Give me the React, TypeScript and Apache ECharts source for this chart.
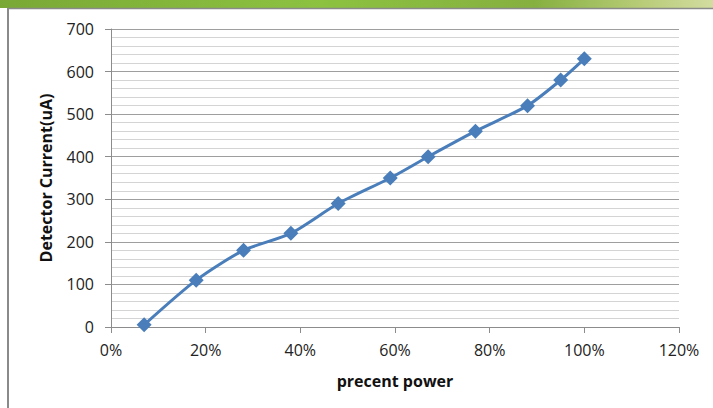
import React, { useEffect, useRef } from "react";
import * as echarts from "echarts";

const powerPct = [0.07, 0.18, 0.28, 0.38, 0.48, 0.59, 0.67, 0.77, 0.88, 0.95, 1.0];
const currentUA = [5, 110, 180, 220, 290, 350, 400, 460, 520, 580, 630];
const xAxisTitle = "precent power";
const yAxisTitle = "Detector Current(uA)";

const FONT = "'Open Sans', 'Liberation Sans', Arial, sans-serif";

export default function App() {
  const ref = useRef<HTMLDivElement>(null);
  useEffect(() => {
    if (!ref.current) return;
    const chart = echarts.init(ref.current, undefined, { renderer: "svg" });
    const data = powerPct.map((p, i) => [p, currentUA[i]]);
    chart.setOption({
      animation: false,
      backgroundColor: "#ffffff",
      textStyle: { fontFamily: FONT },
      grid: { left: 111, right: 34, top: 29, bottom: 81 },
      graphic: [
        {
          type: "rect",
          shape: { x: 0, y: 0, width: 713, height: 8 },
          style: {
            fill: new echarts.graphic.LinearGradient(0, 0, 1, 0, [
              { offset: 0, color: "#7aa836" },
              { offset: 0.45, color: "#8cc240" },
              { offset: 0.75, color: "#86b040" },
              { offset: 0.9, color: "#b8cc78" },
              { offset: 1, color: "#d2dca0" },
            ]),
          },
          silent: true,
        },
        {
          type: "line",
          shape: { x1: 7, y1: 8.5, x2: 713, y2: 8.5 },
          style: { stroke: "#8a8a8a", lineWidth: 1.5 },
          silent: true,
        },
        {
          type: "line",
          shape: { x1: 8, y1: 8, x2: 8, y2: 408 },
          style: { stroke: "#8a8a8a", lineWidth: 2 },
          silent: true,
        },
      ],
      xAxis: {
        type: "value",
        min: 0,
        max: 1.2,
        interval: 0.2,
        name: xAxisTitle,
        nameLocation: "middle",
        nameGap: 46,
        nameTextStyle: { fontFamily: FONT, fontSize: 16, fontWeight: "bold", color: "#111" },
        axisLine: { show: true, lineStyle: { color: "#8c8c8c", width: 1 } },
        axisTick: { show: true, length: 6, lineStyle: { color: "#8c8c8c" } },
        axisLabel: {
          fontFamily: FONT,
          fontSize: 16,
          color: "#222",
          margin: 15,
          formatter: (v: number) => `${Math.round(v * 100)}%`,
        },
        splitLine: { show: false },
      },
      yAxis: {
        type: "value",
        min: 0,
        max: 700,
        interval: 100,
        name: yAxisTitle,
        nameLocation: "middle",
        nameGap: 57,
        nameRotate: 90,
        nameTextStyle: { fontFamily: FONT, fontSize: 16, fontWeight: "bold", color: "#111" },
        axisLine: { show: true, lineStyle: { color: "#8c8c8c", width: 1 } },
        axisTick: { show: true, length: 6, lineStyle: { color: "#8c8c8c" } },
        axisLabel: { fontFamily: FONT, fontSize: 16, color: "#222", margin: 17 },
        minorTick: { show: false, splitNumber: 5 },
        splitLine: { show: true, lineStyle: { color: "#9e9e9e", width: 1 } },
        minorSplitLine: { show: true, lineStyle: { color: "#d4d4d4", width: 1 } },
      },
      series: [
        {
          type: "line",
          data,
          smooth: 0.25,
          symbol: "diamond",
          symbolSize: 15,
          lineStyle: { color: "#4a7ebb", width: 3 },
          itemStyle: { color: "#4a7ebb" },
        },
      ],
    });
    return () => chart.dispose();
  }, []);
  return (
    <div
      ref={ref}
      style={{ position: "fixed", left: 0, top: 0, width: 713, height: 408 }}
    />
  );
}
